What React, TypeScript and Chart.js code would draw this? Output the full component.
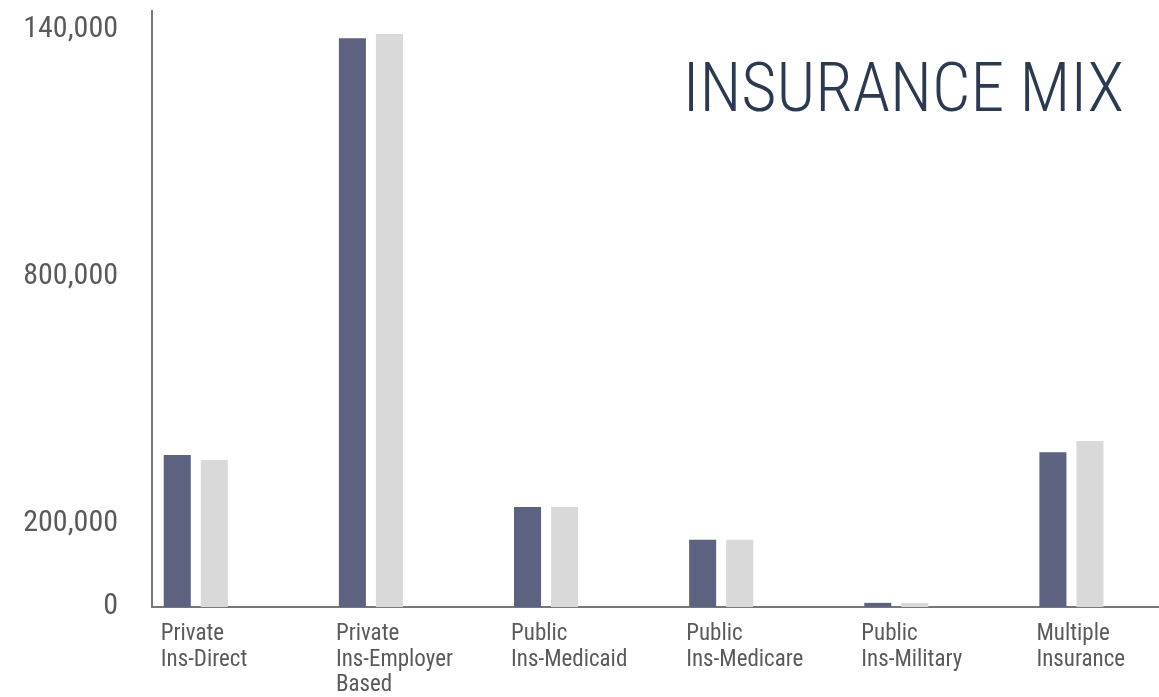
import React, { useEffect, useRef } from "react";
import { Chart, registerables } from "chart.js";

Chart.register(...registerables);

const categories: string[][] = [
  ["Private", "Ins-Direct"],
  ["Private", "Ins-Employer", "Based"],
  ["Public", "Ins-Medicaid"],
  ["Public", "Ins-Medicare"],
  ["Public", "Ins-Military"],
  ["Multiple", "Insurance"],
];
const seriesDark: number[] = [369000, 1381000, 243000, 163000, 10000, 376000];
const seriesLight: number[] = [357000, 1391000, 243000, 163000, 10000, 403000];
const yTickValues: number[] = [0, 200000, 800000, 1400000];
const yTickLabels: string[] = ["0", "200,000", "800,000", "140,000"];
const chartTitle = "INSURANCE MIX";

const FONT = "'Roboto Condensed', 'DejaVu Sans Condensed', sans-serif";

const titlePlugin = {
  id: "cornerTitle",
  afterDraw(chart: any) {
    const ctx = chart.ctx;
    ctx.save();
    ctx.font = `300 68px ${FONT}`;
    ctx.fillStyle = "#2b3a50";
    ctx.textAlign = "right";
    ctx.textBaseline = "alphabetic";
    ctx.fillText(chartTitle, 1124, 111);
    ctx.restore();
  },
};

export default function App() {
  const ref = useRef<HTMLCanvasElement | null>(null);
  useEffect(() => {
    if (!ref.current) return;
    const chart = new Chart(ref.current, {
      type: "bar",
      data: {
        datasets: [
          {
            label: "A",
            data: seriesDark.map((v, i) => ({ x: i, y: v })),
            backgroundColor: "#5d6280",
          },
          {
            label: "B",
            data: seriesLight.map((v, i) => ({ x: i, y: v })),
            backgroundColor: "#d9d9d9",
          },
        ],
      },
      options: {
        animation: false,
        responsive: true,
        maintainAspectRatio: false,
        layout: { padding: { top: 11, left: 0, right: 0, bottom: 0 } },
        datasets: { bar: { categoryPercentage: 0.423, barPercentage: 0.73 } },
        plugins: { legend: { display: false }, tooltip: { enabled: false } },
        scales: {
          x: {
            type: "linear",
            min: -0.25,
            max: 5.5,
            offset: false,
            grid: { display: false, drawTicks: false },
            border: { display: true, color: "#777777", width: 2 },
            afterBuildTicks: (scale: any) => {
              scale.ticks = categories.map((_, i) => ({ value: i }));
            },
            afterFit: (scale: any) => {
              scale.height = 90;
              scale.paddingLeft = 0;
              scale.paddingRight = 0;
            },
            ticks: {
              autoSkip: false,
              maxRotation: 0,
              minRotation: 0,
              align: "start",
              labelOffset: -35,
              padding: 15,
              color: "#5a5a5a",
              font: { family: FONT, size: 23, lineHeight: 1.1 },
              callback: (value: any) => categories[Number(value)] ?? "",
            },
          },
          y: {
            min: 0,
            max: 1447000,
            grid: { display: false, drawTicks: false },
            border: { display: true, color: "#777777", width: 2 },
            afterBuildTicks: (scale: any) => {
              scale.ticks = yTickValues.map((v) => ({ value: v }));
            },
            afterFit: (scale: any) => {
              scale.width = 152;
              scale.paddingTop = 0;
              scale.paddingBottom = 0;
            },
            ticks: {
              padding: 34,
              labelOffset: -1,
              color: "#5a5a5a",
              font: { family: FONT, size: 30 },
              callback: (_v: any, index: number) => yTickLabels[index] ?? "",
            },
          },
        },
      },
      plugins: [titlePlugin],
    } as any);
    return () => chart.destroy();
  }, []);
  return (
    <div style={{ position: "fixed", left: 0, top: 0, width: 1159, height: 697, background: "#ffffff" }}>
      <canvas ref={ref} />
    </div>
  );
}
